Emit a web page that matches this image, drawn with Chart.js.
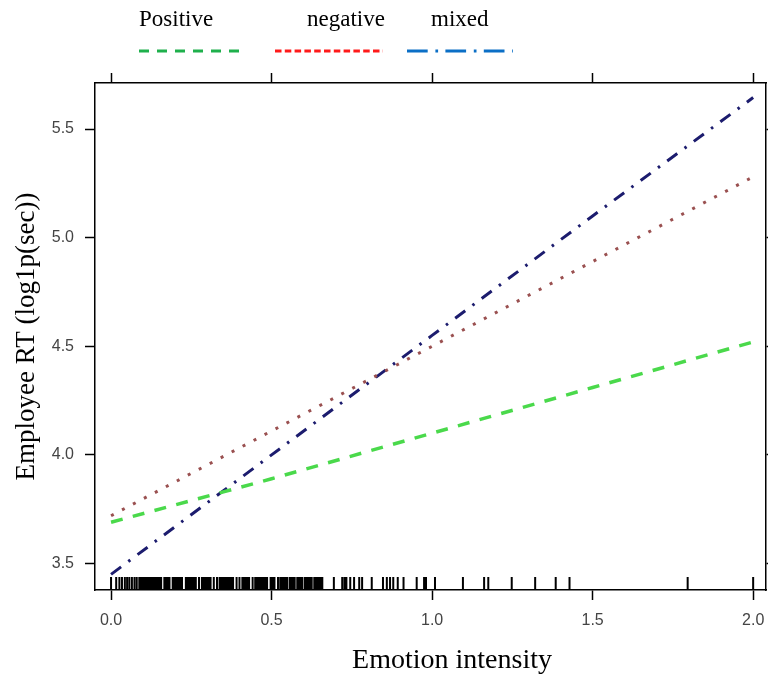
<!DOCTYPE html>
<html>
<head>
<meta charset="utf-8">
<script src="https://cdn.jsdelivr.net/npm/chart.js@4.4.1/dist/chart.umd.min.js"></script>
<style>
  html, body { margin: 0; padding: 0; background: #fff; }
  #wrap { width: 768px; height: 681px; }
</style>
</head>
<body>
<div id="wrap"><canvas id="rtChart" width="768" height="681"></canvas></div>
<script>
// series names + fitted values at each emotion intensity
const seriesNames = ['Positive', 'negative', 'mixed'];
const intensity = [0, 0.5, 1.0, 1.5, 2.0];
const positiveRT = [3.69, 3.89, 4.10, 4.31, 4.52];
const negativeRT = [3.72, 4.11, 4.50, 4.89, 5.28];
const mixedRT = [3.45, 4.00, 4.55, 5.10, 5.645];

const xTicks = [0, 0.5, 1.0, 1.5, 2.0];
const yTicks = [3.5, 4.0, 4.5, 5.0, 5.5];

// observed intensities (rug along the bottom)
const rugValues = [
    0.000, 0.016, 0.026, 0.034, 0.043, 0.050, 0.057, 0.065, 0.073, 0.080,
    0.088, 0.094, 0.100, 0.106, 0.112, 0.118, 0.124, 0.129, 0.134, 0.140,
    0.145, 0.150, 0.156, 0.166, 0.171, 0.176, 0.182, 0.192, 0.198, 0.204,
    0.210, 0.215, 0.221, 0.233, 0.238, 0.243, 0.248, 0.253, 0.258, 0.264,
    0.274, 0.283, 0.289, 0.294, 0.299, 0.305, 0.310, 0.320, 0.330, 0.338,
    0.343, 0.348, 0.353, 0.358, 0.364, 0.369, 0.374, 0.380, 0.391, 0.400,
    0.409, 0.414, 0.419, 0.425, 0.430, 0.441, 0.449, 0.454, 0.460, 0.465,
    0.470, 0.476, 0.481, 0.486, 0.497, 0.503, 0.509, 0.520, 0.527, 0.532,
    0.537, 0.543, 0.548, 0.556, 0.562, 0.567, 0.572, 0.580, 0.585, 0.590,
    0.596, 0.604, 0.609, 0.614, 0.620, 0.625, 0.633, 0.638, 0.643, 0.648,
    0.653, 0.658, 0.694, 0.720, 0.727, 0.733, 0.745, 0.757, 0.773, 0.782,
    0.812, 0.847, 0.859, 0.869, 0.879, 0.893, 0.911, 0.952, 0.975, 0.981,
    1.009, 1.096, 1.162, 1.175, 1.248, 1.321, 1.385, 1.428, 1.796, 2.000
];

const X_MIN = -0.05, X_MAX = 2.04;
const Y_MIN = 3.378, Y_MAX = 5.712;

const tickFont = { family: 'Liberation Sans', size: 16 };
const tickColor = '#444';

function toPoints(ys) {
    return intensity.map((x, i) => ({ x: x, y: ys[i] }));
}

function frameAxis(extra) {
    return Object.assign({
        type: 'linear',
        min: X_MIN,
        max: X_MAX,
        grid: { drawOnChartArea: false, tickLength: 10, tickColor: '#000', tickWidth: 1.5 },
        border: { display: true, color: '#000', width: 1.5 }
    }, extra);
}

// fixed box sizes so the panel lands where the original has it
function fixSize(w, h) {
    return s => {
        if (w !== null) s.width = w;
        if (h !== null) s.height = h;
        s.paddingLeft = 0;
        s.paddingRight = 0;
        s.paddingTop = 0;
        s.paddingBottom = 0;
    };
}

// legend drawn above the panel: name on top, line sample below
const topLegend = {
    id: 'topLegend',
    afterDraw(chart) {
        const ctx = chart.ctx;
        const items = [
            { textX: 139, from: 139, to: 239, color: '#1fb04c', dash: [10, 8] },
            { textX: 307, from: 275, to: 383, color: '#ff1a1a', dash: [6.5, 3.3] },
            { textX: 431, from: 407, to: 513, color: '#0b6fc6', dash: [20.7, 7.7, 2.7, 7.3] }
        ];
        ctx.save();
        ctx.font = '23px "Liberation Serif"';
        ctx.fillStyle = '#000';
        ctx.textBaseline = 'alphabetic';
        items.forEach((it, i) => {
            ctx.fillText(seriesNames[i], it.textX, 26);
            ctx.beginPath();
            ctx.setLineDash(it.dash);
            ctx.lineWidth = 3;
            ctx.strokeStyle = it.color;
            ctx.moveTo(it.from, 51);
            ctx.lineTo(it.to, 51);
            ctx.stroke();
        });
        ctx.restore();
    }
};

// rug of observations + x axis title
const rugAndTitle = {
    id: 'rugAndTitle',
    afterDatasetsDraw(chart) {
        const ctx = chart.ctx;
        const xs = chart.scales.x;
        const bottom = chart.chartArea.bottom;
        ctx.save();
        ctx.strokeStyle = '#000';
        ctx.lineWidth = 2;
        ctx.beginPath();
        rugValues.forEach(v => {
            const px = xs.getPixelForValue(v);
            ctx.moveTo(px, bottom);
            ctx.lineTo(px, bottom - 13);
        });
        ctx.stroke();

        ctx.font = '28px "Liberation Serif"';
        ctx.fillStyle = '#000';
        ctx.textAlign = 'center';
        ctx.textBaseline = 'middle';
        ctx.fillText('Emotion intensity', 452, 661);
        ctx.restore();
    }
};

const ctx = document.getElementById('rtChart');
new Chart(ctx, {
    type: 'line',
    data: {
        datasets: [
            {
                label: seriesNames[0],
                data: toPoints(positiveRT),
                borderColor: '#4ad94b',
                borderWidth: 3.5,
                borderDash: [12, 10.5]
            },
            {
                label: seriesNames[1],
                data: toPoints(negativeRT),
                borderColor: '#9a5050',
                borderWidth: 3,
                borderDash: [3, 9.4]
            },
            {
                label: seriesNames[2],
                data: toPoints(mixedRT),
                borderColor: '#1c1c6e',
                borderWidth: 3,
                borderDash: [12.5, 9, 2.5, 9]
            }
        ]
    },
    options: {
        responsive: false,
        animation: false,
        layout: { padding: 0 },
        elements: {
            point: { radius: 0 },
            line: { tension: 0, borderCapStyle: 'butt', fill: false }
        },
        plugins: {
            legend: { display: false },
            tooltip: { enabled: false }
        },
        scales: {
            x: frameAxis({
                position: 'bottom',
                afterBuildTicks: s => { s.ticks = xTicks.map(v => ({ value: v })); },
                afterFit: fixSize(null, 91),
                ticks: {
                    font: tickFont,
                    color: tickColor,
                    padding: 11,
                    maxRotation: 0,
                    callback: v => v.toFixed(1)
                }
            }),
            xTop: frameAxis({
                position: 'top',
                afterBuildTicks: s => { s.ticks = xTicks.map(v => ({ value: v })); },
                afterFit: fixSize(null, 83),
                ticks: { display: false }
            }),
            y: frameAxis({
                position: 'left',
                min: Y_MIN,
                max: Y_MAX,
                afterBuildTicks: s => { s.ticks = yTicks.map(v => ({ value: v })); },
                afterFit: fixSize(95, null),
                ticks: {
                    font: tickFont,
                    color: tickColor,
                    padding: 11,
                    callback: v => v.toFixed(1)
                },
                title: {
                    display: true,
                    text: 'Employee RT (log1p(sec))',
                    color: '#000',
                    font: { family: 'Liberation Serif', size: 27 },
                    padding: { top: 11, bottom: 0 }
                }
            }),
            yRight: frameAxis({
                position: 'right',
                min: Y_MIN,
                max: Y_MAX,
                afterBuildTicks: s => { s.ticks = yTicks.map(v => ({ value: v })); },
                afterFit: fixSize(2, null),
                ticks: { display: false }
            })
        }
    },
    plugins: [topLegend, rugAndTitle]
});
</script>
</body>
</html>
